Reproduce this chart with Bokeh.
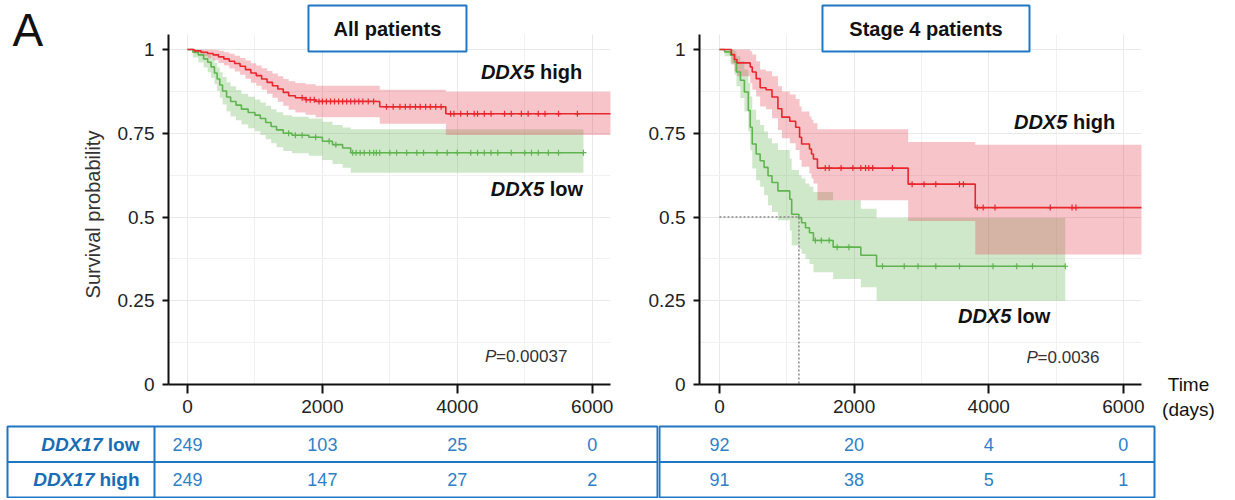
import numpy as np
from bokeh.plotting import figure
from bokeh.models import Range1d, FixedTicker, Span, CustomJSTickFormatter, BoxAnnotation
from bokeh.layouts import row, column
from bokeh.embed import file_html
from bokeh.resources import INLINE
from bokeh.core.properties import value

FONT = "Liberation Sans"
RED = "#e8262c"
GREEN = "#5fb44f"
RED_BAND = "#e63c50"
GREEN_BAND = "#64b450"
BLUE = "#1f77c4"
BLUE_TXT = "#1a6db5"
BLUE_NUM = "#2f80c8"

# ---------------- data ----------------
TIME_TICKS = [0, 2000, 4000, 6000]
TIME_MINOR = [1000, 3000, 5000]
SURV_TICKS = [0, 0.25, 0.5, 0.75, 1]
SURV_MINOR = [0.125, 0.375, 0.625, 0.875]

# All patients, DDX5 high
all_high_t = [0, 100, 200, 300, 380, 460, 540, 620, 700, 780, 860, 940, 1020, 1100, 1180, 1260, 1340, 1420, 1500, 1600, 1750, 1900, 2850, 3830, 6400]
all_high_s = [1.0, 0.996, 0.992, 0.988, 0.984, 0.978, 0.972, 0.965, 0.958, 0.950, 0.940, 0.930, 0.922, 0.912, 0.902, 0.892, 0.882, 0.872, 0.862, 0.856, 0.850, 0.845, 0.829, 0.808, 0.808]
all_high_up = [1.0, 1.0, 1.0, 1.0, 0.999, 0.996, 0.992, 0.987, 0.981, 0.975, 0.967, 0.959, 0.952, 0.944, 0.936, 0.928, 0.920, 0.912, 0.905, 0.900, 0.896, 0.892, 0.880, 0.874, 0.874]
all_high_lo = [1.0, 0.988, 0.980, 0.974, 0.968, 0.960, 0.952, 0.943, 0.934, 0.925, 0.913, 0.901, 0.892, 0.880, 0.868, 0.856, 0.844, 0.832, 0.820, 0.812, 0.805, 0.798, 0.778, 0.745, 0.745]
all_high_cens = [1700, 1760, 1820, 1880, 1950, 2000, 2060, 2120, 2180, 2240, 2300, 2360, 2420, 2480, 2540, 2600, 2680, 2760,
                 2950, 3050, 3150, 3230, 3300, 3380, 3450, 3530, 3600, 3680, 3760, 3900, 3950, 4050, 4150, 4250, 4300,
                 4400, 4500, 4700, 4800, 4950, 5050, 5200, 5300, 5500, 5780]

# All patients, DDX5 low
all_low_t = [0, 80, 160, 240, 300, 350, 400, 440, 480, 520, 580, 640, 720, 800, 900, 1000, 1080, 1160, 1240, 1320, 1420, 1550, 1800, 2000, 2150, 2300, 2420, 5870]
all_low_s = [1.0, 0.992, 0.984, 0.972, 0.962, 0.948, 0.93, 0.912, 0.894, 0.876, 0.858, 0.845, 0.834, 0.822, 0.812, 0.804, 0.794, 0.782, 0.77, 0.76, 0.75, 0.744, 0.738, 0.726, 0.716, 0.706, 0.692, 0.692]
all_low_up = [1.0, 1.0, 0.998, 0.99, 0.984, 0.974, 0.96, 0.946, 0.932, 0.918, 0.902, 0.89, 0.879, 0.868, 0.859, 0.851, 0.842, 0.832, 0.822, 0.813, 0.804, 0.799, 0.794, 0.784, 0.775, 0.767, 0.762, 0.762]
all_low_lo = [1.0, 0.976, 0.962, 0.946, 0.932, 0.916, 0.896, 0.876, 0.856, 0.836, 0.815, 0.8, 0.789, 0.776, 0.765, 0.756, 0.745, 0.732, 0.72, 0.708, 0.697, 0.69, 0.683, 0.67, 0.658, 0.647, 0.632, 0.632]
all_low_cens = [1500, 1600, 1700, 1900, 2100, 2200, 2450, 2500, 2560, 2620, 2700, 2760, 2800, 2850, 3000, 3100, 3250,
                3400, 3500, 3700, 3850, 4000, 4200, 4300, 4400, 4500, 4600, 4800, 5000, 5100, 5200, 5350, 5500, 5870]

# Stage 4 patients, DDX5 high
st4_high_t = [0, 176, 223, 260, 457, 487, 545, 604, 692, 780, 868, 927, 1044, 1132, 1190, 1220, 1337, 1367, 1396, 1455, 2803, 3800, 6400]
st4_high_s = [1.0, 0.985, 0.97, 0.96, 0.948, 0.933, 0.913, 0.886, 0.88, 0.858, 0.823, 0.798, 0.786, 0.768, 0.738, 0.718, 0.703, 0.688, 0.673, 0.646, 0.598, 0.528, 0.528]
st4_high_up = [1.0, 1.0, 1.0, 1.0, 0.995, 0.985, 0.965, 0.94, 0.935, 0.92, 0.89, 0.875, 0.866, 0.852, 0.83, 0.815, 0.8, 0.79, 0.78, 0.762, 0.724, 0.716, 0.716]
st4_high_lo = [1.0, 0.955, 0.935, 0.92, 0.9, 0.88, 0.86, 0.83, 0.822, 0.795, 0.76, 0.735, 0.72, 0.70, 0.67, 0.65, 0.63, 0.615, 0.6, 0.55, 0.488, 0.388, 0.388]
st4_high_cens = [1572, 1630, 1806, 1982, 2100, 2170, 2217, 2276, 2569, 2862, 3038, 3214, 3566, 3624, 3830, 3918, 4094, 4915, 5238, 5296]

# Stage 4 patients, DDX5 low
st4_low_t = [0, 76, 164, 223, 252, 311, 370, 428, 457, 487, 545, 604, 663, 721, 780, 868, 1044, 1073, 1180, 1220, 1278, 1337, 1396, 1689, 2100, 2334, 5137]
st4_low_s = [1.0, 0.993, 0.983, 0.963, 0.933, 0.908, 0.873, 0.818, 0.768, 0.718, 0.688, 0.668, 0.648, 0.623, 0.603, 0.578, 0.553, 0.508, 0.498, 0.483, 0.468, 0.453, 0.43, 0.41, 0.386, 0.353, 0.353]
st4_low_up = [1.0, 1.0, 1.0, 0.995, 0.98, 0.965, 0.94, 0.9, 0.86, 0.82, 0.79, 0.775, 0.755, 0.735, 0.72, 0.70, 0.675, 0.64, 0.625, 0.615, 0.60, 0.59, 0.575, 0.55, 0.525, 0.497, 0.497]
st4_low_lo = [1.0, 0.98, 0.958, 0.925, 0.89, 0.855, 0.815, 0.755, 0.70, 0.645, 0.61, 0.59, 0.565, 0.535, 0.515, 0.49, 0.46, 0.415, 0.405, 0.39, 0.375, 0.36, 0.335, 0.315, 0.29, 0.25, 0.25]
st4_low_cens = [1425, 1513, 1630, 1748, 1923, 2422, 2745, 2950, 3214, 3566, 4064, 4416, 4651, 5137]
st4_low_median = 1180

# numbers at risk
risk_rows = ["low", "high"]
all_risk_low = [249, 103, 25, 0]
all_risk_high = [249, 147, 27, 2]
st4_risk_low = [92, 20, 4, 0]
st4_risk_high = [91, 38, 5, 1]

p_all = "0.00037"
p_st4 = "0.0036"

# ---------------- layout constants (pixels / ranges) ----------------
FW = 442
TOP = 2            # frame top (page px)
AX_TOP = 34        # top of the drawn y axis (page px)
Y1_PX = 49         # page px of survival = 1
BOT = 384          # frame bottom = survival 0 (page px)
ROW_H = 424
PPU = (BOT - Y1_PX)                     # px per survival unit
Y_END = 1 + (Y1_PX - TOP) / PPU
Y_AXIS_END = 1 + (Y1_PX - AX_TOP) / PPU
Y_EXT0 = -(ROW_H - BOT) / PPU
XL0, XL1 = -281, 6271
XR0, XR1 = -297, 6270


def step_val(ts, ss, c):
    idx = np.searchsorted(np.array(ts), np.array(c), side="right") - 1
    return list(np.array(ss)[idx])


def style_axes(p):
    xt = FixedTicker(ticks=TIME_TICKS, minor_ticks=TIME_MINOR)
    yt = FixedTicker(ticks=SURV_TICKS, minor_ticks=SURV_MINOR)
    p.xaxis.ticker = xt
    p.xgrid.ticker = xt
    p.yaxis.ticker = yt
    p.ygrid.ticker = yt
    p.yaxis.bounds = (0, Y_AXIS_END)
    p.yaxis.formatter = CustomJSTickFormatter(code="return tick.toString()")
    for g in (p.xgrid, p.ygrid):
        g.grid_line_color = "#e9e9e9"
        g.grid_line_width = 1
        g.minor_grid_line_color = "#f1f1f1"
        g.minor_grid_line_width = 1
    for ax in (p.xaxis, p.yaxis):
        ax.axis_line_width = 2
        ax.axis_line_color = "#111111"
        ax.major_tick_line_width = 2
        ax.major_tick_line_color = "#111111"
        ax.major_tick_in = 0
        ax.minor_tick_line_color = None
        ax.major_label_text_font = FONT
        ax.major_label_text_font_size = "19px"
        ax.major_label_text_color = "#222222"
    p.xaxis.major_tick_out = 9
    p.yaxis.major_tick_out = 6
    p.xaxis.major_label_standoff = 6
    p.yaxis.major_label_standoff = 8
    # keep the grid from showing above the axis top
    p.add_layout(BoxAnnotation(bottom=Y_AXIS_END, fill_color="white", fill_alpha=1.0,
                               line_color=None, level="underlay"))


def panel(x0, x1, bl, br):
    p = figure(frame_width=FW, frame_height=BOT - TOP, x_range=Range1d(x0, x1), y_range=Range1d(0, Y_END),
               min_border_left=bl, min_border_right=br, min_border_top=TOP, min_border_bottom=ROW_H - BOT,
               output_backend="svg", toolbar_location=None, outline_line_color=None,
               background_fill_color="white", border_fill_color="white")
    style_axes(p)
    return p


def curves(p, lo_t, lo_s, lo_up, lo_lo, lo_c, hi_t, hi_s, hi_up, hi_lo, hi_c):
    p.varea_step(x=lo_t, y1=lo_lo, y2=lo_up, step_mode="after", fill_color=GREEN_BAND, fill_alpha=0.3)
    p.varea_step(x=hi_t, y1=hi_lo, y2=hi_up, step_mode="after", fill_color=RED_BAND, fill_alpha=0.3)
    p.step(x=lo_t, y=lo_s, mode="after", line_color=GREEN, line_width=1.6)
    p.step(x=hi_t, y=hi_s, mode="after", line_color=RED, line_width=1.6)
    p.scatter(x=lo_c, y=step_val(lo_t, lo_s, lo_c), marker="cross", size=6, line_color=GREEN, line_width=1.2)
    p.scatter(x=hi_c, y=step_val(hi_t, hi_s, hi_c), marker="cross", size=6, line_color=RED, line_width=1.2)


def group_label(p, x, y, suffix):
    p.text(x=[x], y=[y], text=["DDX5"], text_font=value(FONT), text_font_size="20px",
           text_font_style="bold italic", text_color="#111111", text_align="left", text_baseline="middle")
    p.text(x=[x], y=[y], text=[suffix], x_offset=59, text_font=value(FONT), text_font_size="20px",
           text_font_style="bold", text_color="#111111", text_align="left", text_baseline="middle")


def pval(p, x, y, txt):
    p.text(x=[x], y=[y], text=["P"], text_font=value(FONT), text_font_size="17px",
           text_font_style="italic", text_color="#333333", text_align="left", text_baseline="middle")
    p.text(x=[x], y=[y], text=["=" + txt], x_offset=11, text_font=value(FONT), text_font_size="17px",
           text_color="#333333", text_align="left", text_baseline="middle")


def title_box(p, x, txt, w):
    y = 1 + (Y1_PX - 28) / PPU
    p.rect(x=[x], y=[y], width=w, height=46, width_units="screen", height_units="screen",
           fill_color="white", line_color=BLUE, line_width=2)
    p.text(x=[x], y=[y], text=[txt], text_font=value(FONT), text_font_size="20px", text_font_style="bold",
           text_color="#111111", text_align="center", text_baseline="middle")


def blank(width, x_end):
    f = figure(width=width, frame_height=ROW_H - TOP, x_range=Range1d(0, x_end), y_range=Range1d(Y_EXT0, Y_END),
               min_border_left=0, min_border_right=0, min_border_top=TOP, min_border_bottom=0,
               x_axis_location=None, y_axis_location=None, output_backend="svg", toolbar_location=None,
               outline_line_color=None, background_fill_color="white", border_fill_color="white")
    f.grid.visible = False
    return f


# ---------------- panel tag "A" and y-axis title ----------------
A_W = 110
pA = blank(A_W, A_W)
pA.text(x=[12], y=[1 + (Y1_PX - 29) / PPU], text=["A"], text_font=value(FONT), text_font_size="46px",
        text_color="#111111", text_align="left", text_baseline="middle")
pA.text(x=[92], y=[(BOT - 214) / PPU], text=["Survival probability"], angle=np.pi / 2,
        text_font=value(FONT), text_font_size="20px", text_color="#333333",
        text_align="center", text_baseline="middle")

# ---------------- left panel ----------------
pL = panel(XL0, XL1, 168 - A_W, 20)
curves(pL, all_low_t, all_low_s, all_low_up, all_low_lo, all_low_cens,
       all_high_t, all_high_s, all_high_up, all_high_lo, all_high_cens)
group_label(pL, 4350, 0.934, "high")
group_label(pL, 4495, 0.585, "low")
pval(pL, 4410, 0.084, p_all)
title_box(pL, 2965, "All patients", 158)

# ---------------- right panel ----------------
pR = panel(XR0, XR1, 69, 6)
curves(pR, st4_low_t, st4_low_s, st4_low_up, st4_low_lo, st4_low_cens,
       st4_high_t, st4_high_s, st4_high_up, st4_high_lo, st4_high_cens)
pR.line(x=[0, st4_low_median, st4_low_median], y=[0.5, 0.5, 0], line_color="#888888",
        line_width=1.5, line_dash="2 2")
group_label(pR, 4375, 0.783, "high")
group_label(pR, 3543, 0.203, "low")
pval(pR, 4563, 0.081, p_st4)
title_box(pR, 3068, "Stage 4 patients", 207)

# ---------------- "Time (days)" ----------------
T_W = 86
pT = blank(T_W, T_W)
pT.text(x=[41, 41], y=[0, -(409 - BOT) / PPU], text=["Time", "(days)"], text_font=value(FONT),
        text_font_size="19px", text_color="#111111", text_align="center", text_baseline="middle")

# ---------------- risk table ----------------
pxL = FW / (XL1 - XL0)
pxR = FW / (XR1 - XR0)
TL_FW = 650
TR_FW = 495
tL0 = XL0 - (168 - 7) / pxL
tL1 = tL0 + TL_FW / pxL
tR0 = XR0 - (699 - 659) / pxR
tR1 = tR0 + TR_FW / pxR
t_div = tL0 + (154 - 7) / pxL


def table(x0, x1, fw, bl, br):
    t = figure(frame_width=fw, frame_height=71, x_range=Range1d(x0, x1), y_range=Range1d(0, 2),
               min_border_left=bl, min_border_right=br, min_border_top=2, min_border_bottom=1,
               x_axis_location=None, y_axis_location=None, output_backend="svg", toolbar_location=None,
               outline_line_color=BLUE, outline_line_width=2, background_fill_color="white",
               border_fill_color="white")
    t.grid.visible = False
    t.add_layout(Span(location=1, dimension="width", line_color=BLUE, line_width=2))
    return t


def counts(t, low, high):
    t.text(x=TIME_TICKS, y=[1.5] * 4, text=[str(v) for v in low], text_font=value(FONT),
           text_font_size="18px", text_color=BLUE_NUM, text_align="center", text_baseline="middle")
    t.text(x=TIME_TICKS, y=[0.5] * 4, text=[str(v) for v in high], text_font=value(FONT),
           text_font_size="18px", text_color=BLUE_NUM, text_align="center", text_baseline="middle")


tL = table(tL0, tL1, TL_FW, 7, 1)
tL.add_layout(Span(location=t_div, dimension="height", line_color=BLUE, line_width=2))
counts(tL, all_risk_low, all_risk_high)
tL.text(x=[t_div, t_div], y=[1.5, 0.5], text=risk_rows, x_offset=-15, text_font=value(FONT),
        text_font_size="19px", text_font_style="bold", text_color=BLUE_TXT, text_align="right",
        text_baseline="middle")
tL.text(x=[t_div, t_div], y=[1.5, 0.5], text=["DDX17", "DDX17"], x_offset=[-52, -60], text_font=value(FONT),
        text_font_size="19px", text_font_style="bold italic", text_color=BLUE_TXT, text_align="right",
        text_baseline="middle")

tR = table(tR0, tR1, TR_FW, 1, 2)
counts(tR, st4_risk_low, st4_risk_high)

layout = column(row(pA, pL, pR, pT, spacing=0), row(tL, tR, spacing=0), spacing=0)
open("out.html", "w").write(file_html(layout, INLINE))
